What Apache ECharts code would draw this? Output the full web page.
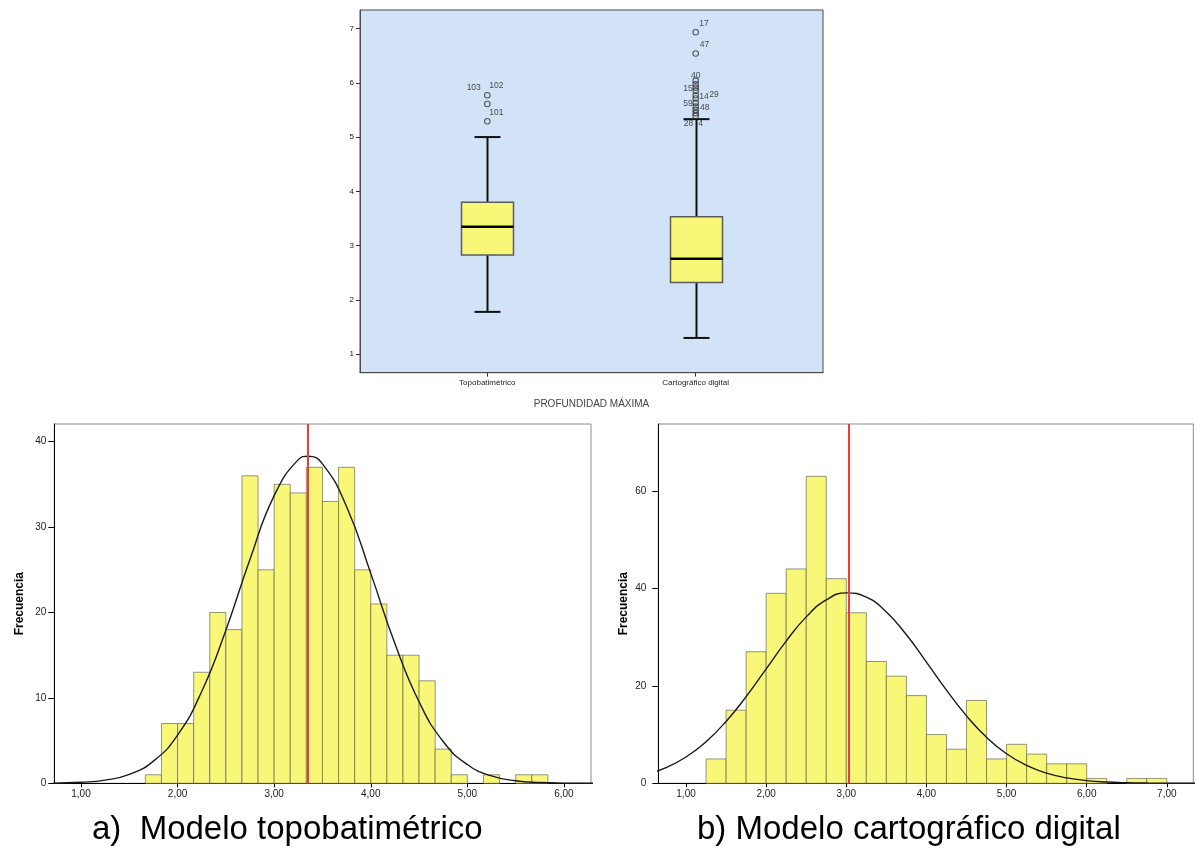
<!DOCTYPE html>
<html><head><meta charset="utf-8">
<script src="https://cdn.jsdelivr.net/npm/echarts@6/dist/echarts.min.js"></script>
<style>html,body{margin:0;padding:0;background:#fff}#c{width:1198px;height:849px}</style>
</head><body><div id="c"></div>
<script>
// ---------- Box plot data ----------
const boxCategories = ['Topobatimétrico', 'Cartográfico digital'];
// [lower whisker, Q1, median, Q3, upper whisker]
const boxTopo = [1.78, 2.83, 3.35, 3.80, 5.00];
const boxCarto = [1.30, 2.32, 2.76, 3.53, 5.33];
const outliersTopo = [5.29, 5.61, 5.77];
const outliersCarto = [5.39, 5.44, 5.50, 5.56, 5.63, 5.71, 5.77, 5.85, 5.91, 5.97, 6.04, 6.54, 6.93];
// [category index, value, case id]
const outlierLabels = [
  [0, 5.77, '103'], [0, 5.77, '102'], [0, 5.29, '101'],
  [1, 6.93, '17'], [1, 6.54, '47'], [1, 6.04, '40'], [1, 5.91, '15'],
  [1, 5.77, '14'], [1, 5.77, '29'], [1, 5.63, '59'], [1, 5.56, '48'],
  [1, 5.39, '28'], [1, 5.39, '4']
];
const boxYTicks = [1, 2, 3, 4, 5, 6, 7];
const boxYTickLabels = ['1', '2', '3', '4', '5', '6', '7'];
const boxAxisName = 'PROFUNDIDAD MÁXIMA';

// ---------- Histogram a) ----------
const histA_binStart = 1.6667;
const histA_binWidth = 0.16667;
const histA_counts = [1, 7, 7, 13, 20, 18, 36, 25, 35, 34, 37, 33, 37, 25, 21, 15, 15, 12, 4, 1, 0, 1, 0, 1, 1];
const histA_mean = 3.35;
const curveA_x = [0.70, 1.00, 1.25, 1.50, 1.75, 2.00, 2.25, 2.50, 2.75, 3.00, 3.25, 3.35, 3.50, 3.75, 4.00, 4.25, 4.50, 4.75, 5.00, 5.25, 5.50, 5.75, 6.00, 6.30];
const curveA_y = [0.02, 0.12, 0.37, 1.05, 2.60, 5.65, 10.75, 17.93, 26.24, 33.68, 37.90, 38.30, 37.40, 32.38, 24.58, 16.36, 9.55, 4.89, 2.20, 0.86, 0.30, 0.09, 0.02, 0.00];
const histA_xTicks = [1, 2, 3, 4, 5, 6];
const histA_xTickLabels = ['1,00', '2,00', '3,00', '4,00', '5,00', '6,00'];
const histA_yTicks = [0, 10, 20, 30, 40];
const histA_yTickLabels = ['0', '10', '20', '30', '40'];

// ---------- Histogram b) ----------
const histB_binStart = 1.25;
const histB_binWidth = 0.25;
const histB_counts = [5, 15, 27, 39, 44, 63, 42, 35, 25, 22, 18, 10, 7, 17, 5, 8, 6, 4, 4, 1, 0, 1, 1];
const histB_mean = 3.03;
const curveB_x = [0.50, 0.75, 1.00, 1.25, 1.50, 1.75, 2.00, 2.25, 2.50, 2.75, 3.00, 3.25, 3.50, 3.75, 4.00, 4.25, 4.50, 4.75, 5.00, 5.25, 5.50, 5.75, 6.00, 6.25, 6.50, 6.75, 7.00, 7.25, 7.50];
const curveB_y = [1.80, 3.22, 5.40, 8.53, 12.70, 17.79, 23.48, 29.19, 34.16, 37.65, 39.08, 38.20, 35.16, 30.48, 24.88, 19.12, 13.84, 9.44, 6.06, 3.66, 2.08, 1.12, 0.56, 0.27, 0.12, 0.05, 0.02, 0.01, 0.00];
const histB_xTicks = [1, 2, 3, 4, 5, 6, 7];
const histB_xTickLabels = ['1,00', '2,00', '3,00', '4,00', '5,00', '6,00', '7,00'];
const histB_yTicks = [0, 20, 40, 60];
const histB_yTickLabels = ['0', '20', '40', '60'];

const yAxisTitle = 'Frecuencia';
const captionA = 'a)  Modelo topobatimétrico';
const captionB = 'b) Modelo cartográfico digital';

// ---------- styles ----------
const FONT = '"Liberation Sans", Arial, Helvetica, sans-serif';
const YELLOW = '#F9F777';
const labelStyle = {
  '103': ['right', -6.5, -8], '102': ['left', 2, -10], '101': ['left', 2, -9],
  '17': ['left', 3.5, -9], '47': ['left', 4, -9], '40': ['center', 0, -5],
  '15': ['right', -3, 0.7], '14': ['left', 3.5, 1.7], '29': ['left', 13.5, -0.7],
  '59': ['right', -3, 0.6], '48': ['left', 4.3, 0.6], '28': ['right', -2.4, 7.3], '4': ['left', 2.6, 7.3]
};

function lookupLabel(ticks, labels) {
  return function (v) {
    for (let i = 0; i < ticks.length; i++) if (Math.abs(ticks[i] - v) < 1e-6) return labels[i];
    return '';
  };
}
function binsData(start, width, counts) {
  return counts.map((c, i) => [start + i * width, start + (i + 1) * width, c]);
}
function zipXY(xs, ys) { return xs.map((x, i) => [x, ys[i]]); }

function renderBar(params, api) {
  const c = api.value(2);
  if (!c) return null;
  const p0 = api.coord([api.value(0), c]);
  const p1 = api.coord([api.value(1), 0]);
  return {
    type: 'rect',
    shape: { x: p0[0], y: p0[1], width: p1[0] - p0[0], height: p1[1] - p0[1] },
    style: { fill: YELLOW, stroke: 'rgba(95,95,85,0.65)', lineWidth: 1 }
  };
}

function renderBox(params, api) {
  const x = api.value(0);
  const v = [api.value(1), api.value(2), api.value(3), api.value(4), api.value(5)];
  const xc = Math.round(api.coord([x, v[2]])[0]) + 0.5;
  const y = val => api.coord([x, val])[1];
  const bw = 52, cw = 26;
  const lineStyle = { stroke: '#111', lineWidth: 2 };
  return {
    type: 'group',
    children: [
      { type: 'line', shape: { x1: xc, y1: y(v[0]), x2: xc, y2: y(v[1]) }, style: lineStyle },
      { type: 'line', shape: { x1: xc, y1: y(v[3]), x2: xc, y2: y(v[4]) }, style: lineStyle },
      { type: 'line', shape: { x1: xc - cw / 2, y1: y(v[0]), x2: xc + cw / 2, y2: y(v[0]) }, style: lineStyle },
      { type: 'line', shape: { x1: xc - cw / 2, y1: y(v[4]), x2: xc + cw / 2, y2: y(v[4]) }, style: lineStyle },
      { type: 'rect', shape: { x: xc - bw / 2, y: y(v[3]), width: bw, height: y(v[1]) - y(v[3]) },
        style: { fill: YELLOW, stroke: '#5c5c5c', lineWidth: 1.5 } },
      { type: 'line', shape: { x1: xc - bw / 2, y1: y(v[2]), x2: xc + bw / 2, y2: y(v[2]) },
        style: { stroke: '#000', lineWidth: 2.5 } }
    ]
  };
}

const outlierData = outliersTopo.map(v => [0, v]).concat(outliersCarto.map(v => [1, v]));
const labelData = outlierLabels.map(l => {
  const s = labelStyle[l[2]];
  return {
    value: [l[0], l[1]],
    label: { show: true, formatter: l[2], position: 'inside', align: s[0], verticalAlign: 'middle', offset: [s[1], s[2]] }
  };
});

const histAxisLabel = { fontFamily: FONT, fontSize: 10, color: '#222' };

const option = {
  animation: false,
  backgroundColor: '#fff',
  grid: [
    { left: 360, top: 10, width: 463, height: 362.7, show: true, backgroundColor: '#D3E3F7', borderColor: '#4a4a4a', borderWidth: 1 },
    { left: 54.3, top: 424, width: 536.7, height: 359.3, show: true, backgroundColor: '#fff', borderColor: '#8c8c8c', borderWidth: 1 },
    { left: 658.3, top: 424, width: 535, height: 359.3, show: true, backgroundColor: '#fff', borderColor: '#8c8c8c', borderWidth: 1 }
  ],
  xAxis: [
    { gridIndex: 0, type: 'value', min: -0.611, max: 1.611,
      axisLine: { show: true, onZero: false, lineStyle: { color: '#4a4a4a' } },
      axisTick: { show: true, length: 4, customValues: [0, 1], lineStyle: { color: '#333' } },
      axisLabel: { customValues: [0, 1], formatter: v => boxCategories[Math.round(v)], fontFamily: FONT, fontSize: 8, color: '#222', margin: 6 },
      splitLine: { show: false },
      name: boxAxisName, nameLocation: 'middle', nameGap: 27,
      nameTextStyle: { fontFamily: FONT, fontSize: 10, color: '#444' } },
    { gridIndex: 1, type: 'value', min: 0.724, max: 6.28,
      axisLine: { show: true, onZero: false, lineStyle: { color: '#000', width: 1 } },
      axisTick: { show: true, length: 4, customValues: histA_xTicks, lineStyle: { color: '#000' } },
      axisLabel: Object.assign({ customValues: histA_xTicks, formatter: lookupLabel(histA_xTicks, histA_xTickLabels), margin: 6 }, histAxisLabel),
      splitLine: { show: false } },
    { gridIndex: 2, type: 'value', min: 0.654, max: 7.33,
      axisLine: { show: true, onZero: false, lineStyle: { color: '#000', width: 1 } },
      axisTick: { show: true, length: 4, customValues: histB_xTicks, lineStyle: { color: '#000' } },
      axisLabel: Object.assign({ customValues: histB_xTicks, formatter: lookupLabel(histB_xTicks, histB_xTickLabels), margin: 6 }, histAxisLabel),
      splitLine: { show: false } }
  ],
  yAxis: [
    { gridIndex: 0, type: 'value', min: 0.66, max: 7.34,
      axisLine: { show: true, onZero: false, lineStyle: { color: '#4a4a4a' } },
      axisTick: { show: true, length: 4, customValues: boxYTicks, lineStyle: { color: '#333' } },
      axisLabel: { customValues: boxYTicks, formatter: lookupLabel(boxYTicks, boxYTickLabels), fontFamily: FONT, fontSize: 8, color: '#222', margin: 6 },
      splitLine: { show: false } },
    { gridIndex: 1, type: 'value', min: 0, max: 42.07,
      axisLine: { show: true, onZero: false, lineStyle: { color: '#000' } },
      axisTick: { show: true, length: 6, customValues: histA_yTicks, lineStyle: { color: '#000' } },
      axisLabel: Object.assign({ customValues: histA_yTicks, formatter: lookupLabel(histA_yTicks, histA_yTickLabels), margin: 8 }, histAxisLabel),
      splitLine: { show: false },
      name: yAxisTitle, nameLocation: 'middle', nameGap: 29,
      nameTextStyle: { fontFamily: FONT, fontSize: 12, fontWeight: 'bold', color: '#000' } },
    { gridIndex: 2, type: 'value', min: 0, max: 73.75,
      axisLine: { show: true, onZero: false, lineStyle: { color: '#000' } },
      axisTick: { show: true, length: 6, customValues: histB_yTicks, lineStyle: { color: '#000' } },
      axisLabel: Object.assign({ customValues: histB_yTicks, formatter: lookupLabel(histB_yTicks, histB_yTickLabels), margin: 12 }, histAxisLabel),
      splitLine: { show: false },
      name: yAxisTitle, nameLocation: 'middle', nameGap: 29,
      nameTextStyle: { fontFamily: FONT, fontSize: 12, fontWeight: 'bold', color: '#000' } }
  ],
  series: [
    { type: 'custom', xAxisIndex: 0, yAxisIndex: 0, renderItem: renderBox,
      encode: { x: 0, y: [1, 2, 3, 4, 5] },
      data: [[0].concat(boxTopo), [1].concat(boxCarto)], silent: true },
    { type: 'scatter', xAxisIndex: 0, yAxisIndex: 0, symbol: 'circle', symbolSize: 5.5,
      itemStyle: { color: 'rgba(0,0,0,0)', borderColor: '#333', borderWidth: 1.1 },
      data: outlierData, silent: true },
    { type: 'scatter', xAxisIndex: 0, yAxisIndex: 0, symbol: 'circle', symbolSize: 1,
      itemStyle: { color: 'rgba(0,0,0,0)' },
      label: { fontFamily: FONT, fontSize: 8.5, color: '#222' },
      data: labelData, silent: true, z: 5 },

    { type: 'custom', xAxisIndex: 1, yAxisIndex: 1, renderItem: renderBar,
      encode: { x: [0, 1], y: 2 }, data: binsData(histA_binStart, histA_binWidth, histA_counts), silent: true },
    { type: 'line', xAxisIndex: 1, yAxisIndex: 1, data: zipXY(curveA_x, curveA_y), smooth: true,
      symbol: 'none', lineStyle: { color: '#1a1a1a', width: 1.4 }, silent: true, z: 4,
      markLine: { silent: true, symbol: ['none', 'none'], label: { show: false },
        lineStyle: { color: '#EF3B3B', width: 2, type: 'solid' }, data: [{ xAxis: histA_mean }] } },

    { type: 'custom', xAxisIndex: 2, yAxisIndex: 2, renderItem: renderBar,
      encode: { x: [0, 1], y: 2 }, data: binsData(histB_binStart, histB_binWidth, histB_counts), silent: true },
    { type: 'line', xAxisIndex: 2, yAxisIndex: 2, data: zipXY(curveB_x, curveB_y), smooth: true,
      symbol: 'none', lineStyle: { color: '#1a1a1a', width: 1.4 }, silent: true, z: 4,
      markLine: { silent: true, symbol: ['none', 'none'], label: { show: false },
        lineStyle: { color: '#EF3B3B', width: 2, type: 'solid' }, data: [{ xAxis: histB_mean }] } }
  ],
  graphic: [
    { type: 'text', left: 92, top: 813, silent: true,
      style: { text: captionA, font: '33px ' + FONT, fill: '#000' } },
    { type: 'text', left: 697, top: 813, silent: true,
      style: { text: captionB, font: '33px ' + FONT, fill: '#000' } }
  ]
};

const chart = echarts.init(document.getElementById('c'), null, { renderer: 'canvas' });
chart.setOption(option);
</script>
</body></html>
